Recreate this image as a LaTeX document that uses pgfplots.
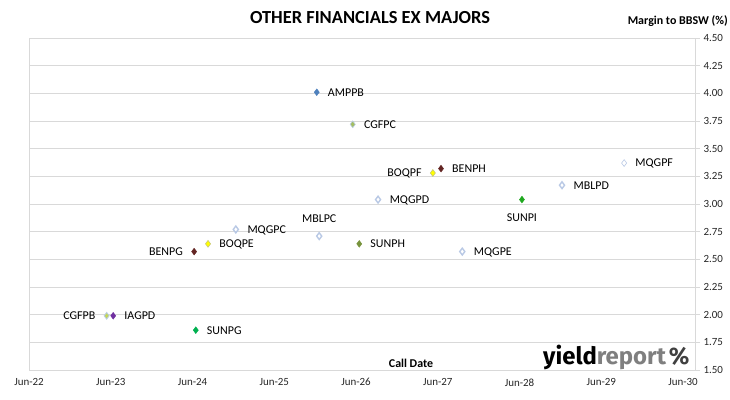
\documentclass[border=0pt]{standalone}
\usepackage{pgfplots}
\pgfplotsset{compat=1.18}
\usepackage{fontspec}
\setmainfont{Carlito}
\newfontfamily\logofont{Fira Sans}
\definecolor{gridc}{HTML}{D9D9D9}
\definecolor{amp}{HTML}{4F81BD}
\definecolor{cgfpc}{HTML}{A4BE62}
\definecolor{cgfb}{HTML}{B9CDE5}
\definecolor{boq}{HTML}{FFFF00}
\definecolor{boqb}{HTML}{C8C87A}
\definecolor{ben}{HTML}{632523}
\definecolor{mqg}{HTML}{B9C9E5}
\definecolor{sunpi}{HTML}{1FA81F}
\definecolor{sunpg}{HTML}{00B050}
\definecolor{sunph}{HTML}{77933C}
\definecolor{cgfpb}{HTML}{C4D65A}
\definecolor{iag}{HTML}{7030A0}
\definecolor{logogray}{HTML}{7F7F7F}
\pgfplotsset{
  lbl/.style={only marks, mark=diamond*, mark size=3.4bp,
    nodes near coords, point meta=explicit symbolic},
  lblR/.style={lbl, every node near coord/.style={anchor=west, inner sep=0pt, xshift=11bp, text depth=0pt, font=\fontsize{12}{14}\selectfont, text=black}},
  lblL/.style={lbl, every node near coord/.style={anchor=east, inner sep=0pt, xshift=-11bp, text depth=0pt, font=\fontsize{12}{14}\selectfont, text=black}},
  lblA/.style={lbl, every node near coord/.style={anchor=center, inner sep=0pt, yshift=17bp, text depth=0pt, font=\fontsize{12}{14}\selectfont, text=black}},
  lblB/.style={lbl, every node near coord/.style={anchor=center, inner sep=0pt, yshift=-18bp, text depth=0pt, font=\fontsize{12}{14}\selectfont, text=black}},
}
\begin{document}
\begin{tikzpicture}
\begin{axis}[
  scale only axis, width=666bp, height=332bp,
  xmin=0, xmax=8.147, ymin=1.5, ymax=4.5,
  xtick={0,1,2,3,4,5,6,7,8},
  xticklabels={Jun-22,Jun-23,Jun-24,Jun-25,Jun-26,Jun-27,Jun-28,Jun-29,Jun-30},
  ytick={1.5,1.75,2,2.25,2.5,2.75,3,3.25,3.5,3.75,4,4.25,4.5},
  yticklabel pos=right, ytick pos=right,
  yticklabel style={/pgf/number format/.cd, fixed, fixed zerofill, precision=2},
  /pgf/number format/assume math mode=true,
  ymajorgrids, grid style={gridc, line width=0.75bp},
  axis line style={gridc, line width=0.75bp},
  xtick style={draw=none},
  ytick style={gridc, line width=0.75bp},
  tick align=outside, major tick length=5bp,
  tick label style={font=\fontsize{11}{13}\selectfont, text=black!85},
  clip=false,
]
\addplot[lblR, mark options={fill=amp, draw=amp}] coordinates {(3.52,4.01)[AMPPB]};
\addplot[lblR, mark options={fill=cgfpc, draw=cgfb, line width=0.6bp}] coordinates {(3.96,3.72)[CGFPC]};
\addplot[lblL, mark options={fill=boq, draw=boqb, line width=0.6bp}] coordinates {(4.94,3.28)[BOQPF]};
\addplot[lblR, mark options={fill=ben, draw=ben}] coordinates {(5.04,3.32)[BENPH]};
\addplot[lblR, mark=diamond, mark options={draw=mqg, fill=white, line width=1.4bp}] coordinates {(4.27,3.04)[MQGPD]};
\addplot[lblB, mark options={fill=sunpi, draw=sunpi}] coordinates {(6.03,3.04)[SUNPI]};
\addplot[lblR, mark=diamond, mark options={draw=mqg, fill=white, line width=1.4bp}] coordinates {(6.52,3.17)[MBLPD]};
\addplot[lblR, mark=diamond, mark options={draw=mqg, fill=white, line width=0.6bp}] coordinates {(7.28,3.37)[MQGPF]};
\addplot[lblA, mark=diamond, mark options={draw=mqg, fill=white, line width=1.4bp}] coordinates {(3.55,2.71)[MBLPC]};
\addplot[lblR, mark=diamond, mark options={draw=mqg, fill=white, line width=1.4bp}] coordinates {(2.53,2.77)[MQGPC]};
\addplot[lblR, mark options={fill=boq, draw=boqb, line width=0.6bp}] coordinates {(2.19,2.64)[BOQPE]};
\addplot[lblL, mark options={fill=ben, draw=ben}] coordinates {(2.02,2.57)[BENPG]};
\addplot[lblR, mark options={fill=sunph, draw=sunph}] coordinates {(4.04,2.64)[SUNPH]};
\addplot[lblR, mark=diamond, mark options={draw=mqg, fill=white, line width=1.4bp}] coordinates {(5.30,2.57)[MQGPE]};
\addplot[lblL, mark options={fill=cgfpb, draw=cgfb, line width=0.8bp}] coordinates {(0.95,1.99)[CGFPB]};
\addplot[lblR, mark options={fill=iag, draw=iag}] coordinates {(1.03,1.99)[IAGPD]};
\addplot[lblR, mark options={fill=sunpg, draw=sunpg}] coordinates {(2.04,1.86)[SUNPG]};
\end{axis}
\begin{scope}[shift={(current axis.south west)}, xshift=-29bp, yshift=370bp, x=1bp, y=-1bp]
  \node[font=\fontsize{18.5}{20}\selectfont\bfseries] at (370,18) {OTHER FINANCIALS EX MAJORS};
  \node[anchor=east, inner sep=0pt, font=\fontsize{12}{14}\selectfont\bfseries] at (728,21) {Margin to BBSW (\%)};
  \node[font=\fontsize{12}{14}\selectfont\bfseries] at (411,363) {Call Date};
  \node[anchor=base west, inner sep=0pt, font=\logofont\fontsize{24}{26}\selectfont\bfseries] at (543,364) {\textcolor{black}{yield}\textcolor{logogray}{report}\hspace{3bp}\textcolor{darkgray}{\%}};
  \pgfresetboundingbox
  \path[use as bounding box] (0,0) rectangle (730,399);
\end{scope}
\end{tikzpicture}
\end{document}
